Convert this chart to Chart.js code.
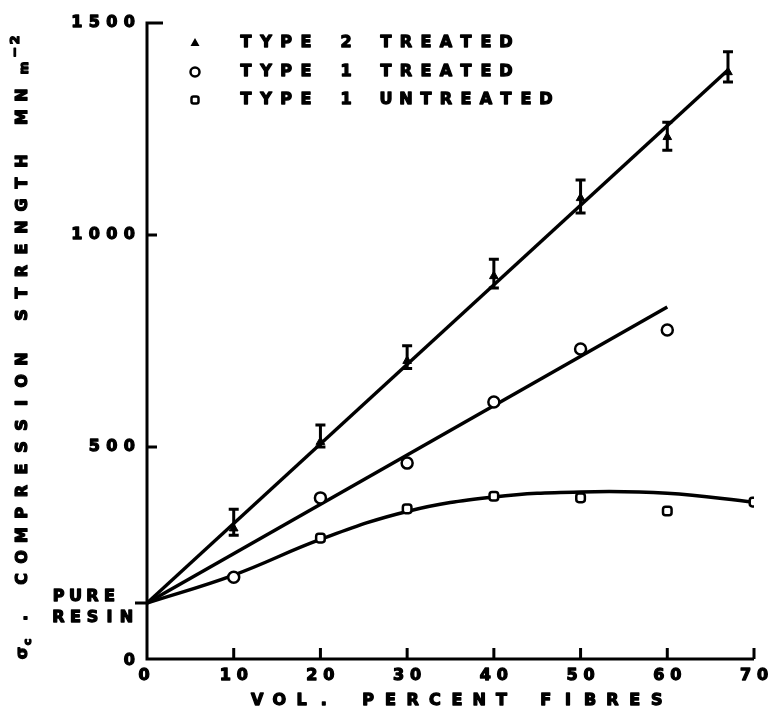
<!DOCTYPE html>
<html>
<head>
<meta charset="utf-8">
<script src="https://cdn.jsdelivr.net/npm/chart.js@4.4.1/dist/chart.umd.min.js"></script>
<style>
  html, body { margin: 0; padding: 0; background: #fff; }
  canvas { display: block; }
</style>
</head>
<body>
<canvas id="strengthChart" width="774" height="715"></canvas>
<script>
  // axis ticks
  const xTicks = [0, 10, 20, 30, 40, 50, 60, 70];
  const yTicks = [0, 500, 1000, 1500];
  const pureResin = 132;

  // type 2 treated: mean and scatter band
  const type2X = [10, 20, 30, 40, 50, 60, 67];
  const type2Y = [308, 512, 703, 903, 1087, 1231, 1384];
  const type2Low = [292, 500, 685, 875, 1052, 1200, 1361];
  const type2High = [353, 552, 739, 943, 1130, 1266, 1432];

  // type 1 treated
  const type1TX = [10, 20, 30, 40, 50, 60];
  const type1TY = [193, 380, 462, 606, 731, 776];

  // type 1 untreated
  const type1UX = [20, 30, 40, 50, 60, 70];
  const type1UY = [285, 354, 384, 380, 349, 370];

  // drawn trend lines
  const fit2X = [0, 67];
  const fit2Y = [132, 1389];
  const fit1TX = [0, 60];
  const fit1TY = [132, 830];
  const fit1UX = [0, 10, 20, 30, 40, 50, 60, 70];
  const fit1UY = [132, 198, 282, 348, 382, 394, 391, 370];

  const FONT = 'bold 16px "DejaVu Sans"';
  const pts = (xs, ys) => xs.map((x, i) => ({ x: x, y: ys[i] }));

  // draws text one letter per fixed-width cell, heavy stroke like a lettering guide
  function spaced(ctx, str, x, y, pitch, align) {
    const w = pitch * str.length;
    let x0 = x;
    if (align === 'right') x0 = x - w;
    if (align === 'center') x0 = x - w / 2;
    ctx.textAlign = 'center';
    ctx.lineWidth = 1.3;
    ctx.lineJoin = 'round';
    for (let i = 0; i < str.length; i++) {
      if (str[i] === ' ') continue;
      ctx.fillText(str[i], x0 + pitch * (i + 0.5), y);
      ctx.strokeText(str[i], x0 + pitch * (i + 0.5), y);
    }
    return x0 + w;
  }

  const decorations = {
    id: 'decorations',
    afterDatasetsDraw(chart) {
      const ctx = chart.ctx;
      const xs = chart.scales.x, ys = chart.scales.y;
      const left = xs.getPixelForValue(0), bottom = ys.getPixelForValue(0);
      const top = ys.getPixelForValue(1500), right = xs.getPixelForValue(70);
      ctx.save();
      ctx.strokeStyle = '#000';
      ctx.fillStyle = '#000';
      ctx.lineCap = 'butt';

      // error bars on type 2
      ctx.lineWidth = 3;
      type2X.forEach((v, i) => {
        const px = xs.getPixelForValue(v);
        const lo = ys.getPixelForValue(type2Low[i]);
        const hi = ys.getPixelForValue(type2High[i]);
        ctx.beginPath();
        ctx.moveTo(px, lo); ctx.lineTo(px, hi);
        ctx.moveTo(px - 5, lo); ctx.lineTo(px + 5, lo);
        ctx.moveTo(px - 5, hi); ctx.lineTo(px + 5, hi);
        ctx.stroke();
      });

      // axes with inward ticks
      ctx.lineWidth = 3;
      ctx.beginPath();
      ctx.moveTo(left + 16, top);
      ctx.lineTo(left, top);
      ctx.lineTo(left, bottom);
      ctx.lineTo(right, bottom);
      xTicks.slice(1).forEach(v => {
        const px = xs.getPixelForValue(v);
        ctx.moveTo(px, bottom); ctx.lineTo(px, bottom - 11);
      });
      yTicks.slice(1, 3).forEach(v => {
        const py = ys.getPixelForValue(v);
        ctx.moveTo(left, py); ctx.lineTo(left + 10, py);
      });
      const pr = ys.getPixelForValue(pureResin);
      ctx.moveTo(left - 12, pr); ctx.lineTo(left, pr);
      ctx.stroke();

      // tick labels
      ctx.font = FONT;
      ctx.textBaseline = 'middle';
      xTicks.forEach(v => {
        const px = xs.getPixelForValue(v) - (v === 0 ? 3 : 0);
        spaced(ctx, String(v), px, bottom + 17, 17, 'center');
      });
      yTicks.forEach(v => {
        const py = ys.getPixelForValue(v) + (v === 0 ? 2 : 0);
        spaced(ctx, String(v), left - 9, py, 17.5, 'right');
      });
      spaced(ctx, 'PURE', 50, pr - 6, 17, 'left');
      spaced(ctx, 'RESIN', 50, pr + 15, 17, 'left');

      // x title
      spaced(ctx, 'VOL. PERCENT FIBRES', 457, 701, 22.2, 'center');

      // y title, rotated
      ctx.save();
      ctx.translate(23, 662);
      ctx.rotate(-Math.PI / 2);
      ctx.textAlign = 'center';
      spaced(ctx, 'σ', 2, 0, 14, 'left');
      ctx.font = 'bold 11px "DejaVu Sans"';
      spaced(ctx, 'c', 15, 5, 10, 'left');
      ctx.font = FONT;
      spaced(ctx, '.', 38, 0, 12, 'left');
      spaced(ctx, 'COMPRESSION STRENGTH MN', 72, 0, 22, 'left');
      ctx.font = 'bold 12px "DejaVu Sans"';
      spaced(ctx, 'm', 588, 2, 12, 'left');
      ctx.font = 'bold 13px "DejaVu Sans"';
      spaced(ctx, '−2', 604, -7, 12, 'left');
      ctx.restore();

      // legend
      ctx.font = FONT;
      const rows = [
        ['triangle', 'TYPE 2 TREATED', 43],
        ['circle', 'TYPE 1 TREATED', 72],
        ['square', 'TYPE 1 UNTREATED', 100]
      ];
      rows.forEach(r => {
        const mx = 195, my = r[2];
        ctx.lineWidth = 2.5;
        ctx.beginPath();
        if (r[0] === 'triangle') {
          ctx.moveTo(mx, my - 5); ctx.lineTo(mx + 4.5, my + 3); ctx.lineTo(mx - 4.5, my + 3);
          ctx.closePath(); ctx.fill();
        } else if (r[0] === 'circle') {
          ctx.arc(mx, my, 4.5, 0, Math.PI * 2); ctx.stroke();
        } else {
          ctx.roundRect(mx - 3.5, my - 3.5, 7, 7, 2); ctx.stroke();
        }
        spaced(ctx, r[1], 236, my, 20, 'left');
      });
      ctx.restore();
    }
  };

  const lineStyle = { showLine: true, borderColor: '#000', borderWidth: 3.5, pointRadius: 0, fill: false };

  new Chart(document.getElementById('strengthChart'), {
    type: 'scatter',
    data: {
      datasets: [
        { label: 'Type 2 treated', data: pts(type2X, type2Y), pointStyle: 'triangle', pointRadius: 5,
          backgroundColor: '#000', borderColor: '#000', borderWidth: 1 },
        { label: 'Type 1 treated', data: pts(type1TX, type1TY), pointStyle: 'circle', pointRadius: 5.5,
          backgroundColor: '#fff', borderColor: '#000', borderWidth: 2.5 },
        { label: 'Type 1 untreated', data: pts(type1UX, type1UY), pointStyle: 'rectRounded', pointRadius: 5,
          backgroundColor: '#fff', borderColor: '#000', borderWidth: 2.5 },
        Object.assign({ label: 'Type 2 fit', data: pts(fit2X, fit2Y) }, lineStyle),
        Object.assign({ label: 'Type 1 treated fit', data: pts(fit1TX, fit1TY) }, lineStyle),
        Object.assign({ label: 'Type 1 untreated fit', data: pts(fit1UX, fit1UY), tension: 0.4 }, lineStyle)
      ]
    },
    options: {
      responsive: false,
      animation: false,
      devicePixelRatio: 1,
      layout: { padding: { left: 0, top: 23, right: 20, bottom: 0 } },
      scales: {
        x: {
          type: 'linear', min: 0, max: 70,
          grid: { display: false }, border: { display: false },
          ticks: { display: false },
          afterFit: s => { s.height = 56; }
        },
        y: {
          type: 'linear', min: 0, max: 1500,
          grid: { display: false }, border: { display: false },
          ticks: { display: false },
          afterFit: s => { s.width = 147; }
        }
      },
      plugins: {
        legend: { display: false },
        tooltip: { enabled: false }
      }
    },
    plugins: [decorations]
  });
</script>
</body>
</html>
